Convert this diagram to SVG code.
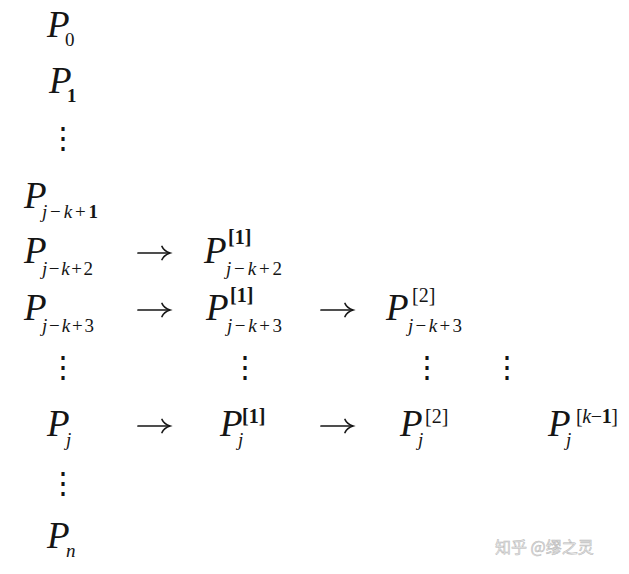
<svg xmlns="http://www.w3.org/2000/svg" width="629" height="574" viewBox="0 0 629 574">
<style>
text { fill: #151515; font-family: "Liberation Serif", "Times New Roman", serif; }
.P { font-style: italic; font-size: 37px; }
.sub { font-size: 19px; }
.sup { font-size: 20px; }
.it { font-style: italic; }
.b { font-weight: bold; }
.dots { font-family: "DejaVu Serif", serif; font-size: 30px; text-anchor: middle; }
.wm { font-family: "Noto Sans CJK SC", "Noto Sans", sans-serif; font-size: 16px; fill: #e8e8e8; stroke: #b8b8b8; stroke-width: 0.5px; }
.arw { fill: none; stroke: #151515; stroke-width: 1.7; stroke-linecap: round; }
</style>
<defs>
<g id="arrow">
<path class="arw" d="M0,0 H31"/>
<path class="arw" d="M24,-6.5 Q26,-2 32,0 Q26,2 24,6.5"/>
</g>
</defs>
<rect width="629" height="574" fill="#ffffff"/>

<g id="p0"><text class="P" x="47" y="37">P</text><text class="sub" x="65" y="46">0</text></g>
<g id="p1"><text class="P" x="49" y="93">P</text><text class="sub b" x="67" y="102">1</text></g>
<g id="vd0"><text class="dots" x="63" y="148">⋮</text></g>

<g id="pjk1"><text class="P" x="24" y="208">P</text><text class="sub" x="42" y="218" textLength="56" lengthAdjust="spacing"><tspan class="it">j</tspan>−<tspan class="it">k</tspan>+<tspan class="b">1</tspan></text></g>

<g id="pjk2"><text class="P" x="24" y="263">P</text><text class="sub" x="42" y="275" textLength="51" lengthAdjust="spacing"><tspan class="it">j</tspan>−<tspan class="it">k</tspan>+2</text></g>
<g id="p1jk2"><text class="P" x="204" y="263">P</text><text class="sup b" x="228" y="244">[1]</text><text class="sub" x="226" y="275" textLength="56" lengthAdjust="spacing"><tspan class="it">j</tspan>−<tspan class="it">k</tspan>+2</text></g>

<g id="pjk3"><text class="P" x="24" y="320">P</text><text class="sub" x="42" y="332" textLength="52" lengthAdjust="spacing"><tspan class="it">j</tspan>−<tspan class="it">k</tspan>+3</text></g>
<g id="p1jk3"><text class="P" x="206" y="320">P</text><text class="sup b" x="230" y="302">[1]</text><text class="sub" x="227" y="332" textLength="55" lengthAdjust="spacing"><tspan class="it">j</tspan>−<tspan class="it">k</tspan>+3</text></g>
<g id="p2jk3"><text class="P" x="386" y="320">P</text><text class="sup" x="412" y="302">[2]</text><text class="sub" x="408" y="332" textLength="54" lengthAdjust="spacing"><tspan class="it">j</tspan>−<tspan class="it">k</tspan>+3</text></g>

<g id="vd1"><text class="dots" x="63" y="377">⋮</text><text class="dots" x="245" y="377">⋮</text><text class="dots" x="427" y="377">⋮</text><text class="dots" x="507" y="377">⋮</text></g>

<g id="pj"><text class="P" x="47" y="436">P</text><text class="sub it" x="66" y="446">j</text></g>
<g id="p1j"><text class="P" x="220" y="436">P</text><text class="sup b" x="242" y="423">[1]</text><text class="sub it" x="238" y="446">j</text></g>
<g id="p2j"><text class="P" x="400" y="436">P</text><text class="sup" x="425" y="423">[2]</text><text class="sub it" x="418" y="446">j</text></g>
<g id="pk1j"><text class="P" x="548" y="436">P</text><text class="sup" x="576" y="423" textLength="42" lengthAdjust="spacing">[<tspan class="it">k</tspan>−<tspan class="b">1</tspan>]</text><text class="sub it" x="566" y="446">j</text></g>

<g id="vd2"><text class="dots" x="63" y="493">⋮</text></g>
<g id="pn"><text class="P" x="47" y="548">P</text><text class="sub it" x="66" y="557">n</text></g>

<g id="connectors">
<use href="#arrow" x="138" y="253"/>
<use href="#arrow" x="138" y="310"/>
<use href="#arrow" x="321" y="310"/>
<use href="#arrow" x="138" y="426"/>
<use href="#arrow" x="321" y="426"/>
</g>

<text class="wm" x="495" y="553">知乎 @缪之灵</text>
</svg>
